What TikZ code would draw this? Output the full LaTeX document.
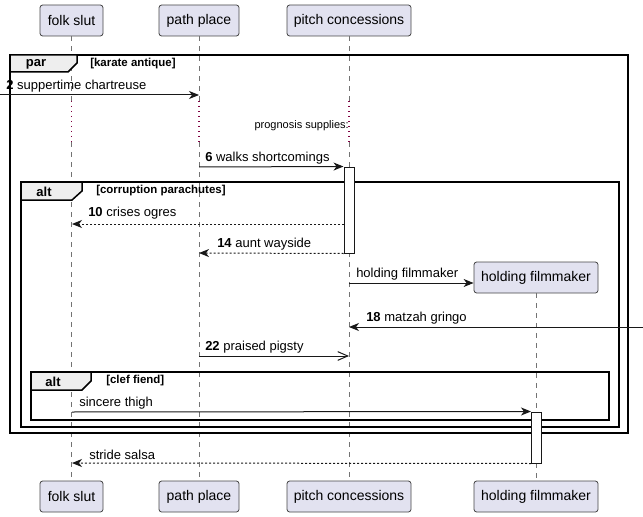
\documentclass[tikz,border=0pt]{standalone}
\usepackage{fontspec}
\setmainfont{Liberation Sans}
\usetikzlibrary{arrows.meta}
\definecolor{partfill}{HTML}{E2E2F0}
\definecolor{partdraw}{HTML}{181818}
\definecolor{tabfill}{HTML}{EEEEEE}
\definecolor{delaycol}{HTML}{800040}
\begin{document}
\begin{tikzpicture}[x=0.75pt,y=-0.75pt,
  part/.style={draw=partdraw!80, line width=0.6pt, fill=partfill, rounded corners=2pt,
    minimum height=31*0.75pt, inner sep=0pt, font=\fontsize{10.5}{12}\selectfont},
  act/.style={draw=partdraw, line width=0.75pt, fill=white, minimum width=10*0.75pt, inner sep=0pt},
  life/.style={draw=black!55, line width=0.5pt, dash pattern=on 3.75pt off 3.75pt},
  delayline/.style={draw=delaycol, line width=1pt, dash pattern=on 1pt off 2.75pt},
  frame/.style={draw=black, line width=1.125pt},
  tab/.style={draw=black, line width=1.125pt, fill=tabfill},
  msg/.style={draw=partdraw, line width=0.75pt, -{Stealth[length=7.5pt,width=6pt,inset=2.25pt]}},
  rmsg/.style={msg, dash pattern=on 1.5pt off 1.5pt},
  omsg/.style={draw=partdraw, line width=0.75pt, -{Straight Barb[length=7.5pt,width=6.5pt]}},
  lbl/.style={anchor=west, inner sep=0pt, font=\fontsize{9.75}{11}\selectfont},
  ftitle/.style={inner sep=0pt, font=\bfseries\fontsize{9.75}{11}\selectfont},
  guard/.style={anchor=west, inner sep=0pt, font=\bfseries\fontsize{8.6}{10}\selectfont},
  note/.style={anchor=east, inner sep=0pt, font=\fontsize{8.25}{10}\selectfont}]
\useasboundingbox (0,0) rectangle (643,517);

% participants
\node[part, minimum width=63*0.75pt]  (fsT) at (71.5,20.5) {folk slut};
\node[part, minimum width=80*0.75pt]  (ppT) at (199,20.5) {path place};
\node[part, minimum width=124*0.75pt] (pcT) at (349,20.5) {pitch concessions};
\node[part, minimum width=124*0.75pt] (hfT) at (536,277.5) {holding filmmaker};
\node[part, minimum width=63*0.75pt]  (fsB) at (71.5,496.5) {folk slut};
\node[part, minimum width=80*0.75pt]  (ppB) at (199,496.5) {path place};
\node[part, minimum width=124*0.75pt] (pcB) at (349,496.5) {pitch concessions};
\node[part, minimum width=124*0.75pt] (hfB) at (536,496.5) {holding filmmaker};

% delay levels
\coordinate (d1) at (0,101);
\coordinate (d2) at (0,142);

% lifelines
\foreach \p in {fs,pp,pc}{
  \draw[life] (\p T.south) -- (\p T.south |- d1);
  \draw[delayline] (\p T.south |- d1) -- (\p T.south |- d2);
  \draw[life] (\p T.south |- d2) -- (\p B.north);
}
\draw[life] (hfT.south) -- (hfB.north);

% frames
\draw[frame] (10,55) rectangle (628,433);
\draw[tab] (10,55) -- (77,55) -- (77,63) -- (68,72) -- (10,72) -- cycle;
\node[ftitle] (parT) at (36,64.5) {par};
\node[guard] (parG) at (90,63.5) {[karate antique]};

\draw[frame] (21,182) rectangle (619,427);
\draw[tab] (21,182) -- (82,182) -- (82,191) -- (72,200) -- (21,200) -- cycle;
\node[ftitle] (altT) at (44,191.5) {alt};
\node[guard] (altG) at (96,191) {[corruption parachutes]};

\draw[frame] (31,372) rectangle (609,420);
\draw[tab] (31,372) -- (91,372) -- (91,381) -- (82,390) -- (31,390) -- cycle;
\node[ftitle] (alt2T) at (53,381.5) {alt};
\node[guard] (alt2G) at (106,380.5) {[clef fiend]};

% activations
\node[act, minimum height=86*0.75pt] (a1) at (349,210) {};
\node[act, minimum height=51*0.75pt] (a2) at (536.5,437.5) {};

% message 2
\coordinate (m2s) at (0,95);
\coordinate (m2e) at (199,95);
\draw[msg] (m2s) -- (m2e);
\node[lbl] (m2l) at (6,86) {\textbf{2} suppertime chartreuse};

% delay text
\node[note] (dly) at (349,126) {prognosis supplies:};

% message 6
\coordinate (m6s) at (199,167);
\draw[msg] (m6s) -- (a1.north west);
\node[lbl] (m6l) at (205,158) {\textbf{6} walks shortcomings};

% message 10
\coordinate (m10s) at (344,224);
\coordinate (m10e) at (72,224);
\draw[rmsg] (m10s) -- (m10e);
\node[lbl] (m10l) at (88,213.5) {\textbf{10} crises ogres};

% message 14
\coordinate (m14e) at (199,253);
\draw[rmsg] (a1.south west) -- (m14e);
\node[lbl] (m14l) at (217,244) {\textbf{14} aunt wayside};

% create
\coordinate (mcs) at (349,283);
\draw[msg] (mcs) -- (hfT.west |- mcs);
\node[lbl] (mcl) at (356,274) {holding filmmaker};

% message 18
\coordinate (m18s) at (643,327);
\coordinate (m18e) at (349,327);
\draw[msg] (m18s) -- (m18e);
\node[lbl] (m18l) at (366,318) {\textbf{18} matzah gringo};

% message 22
\coordinate (m22s) at (199,356);
\coordinate (m22e) at (349,356);
\draw[omsg] (m22s) -- (m22e);
\node[lbl] (m22l) at (205,347.5) {\textbf{22} praised pigsty};

% sincere thigh
\coordinate (msts) at (72,412);
\draw[msg] (msts) -- (a2.north west);
\node[lbl] (mstl) at (79,403) {sincere thigh};

% stride salsa
\coordinate (msse) at (72,463);
\draw[rmsg] (a2.south west) -- (msse);
\node[lbl] (mssl) at (89,454.5) {stride salsa};
\end{tikzpicture}
\end{document}
